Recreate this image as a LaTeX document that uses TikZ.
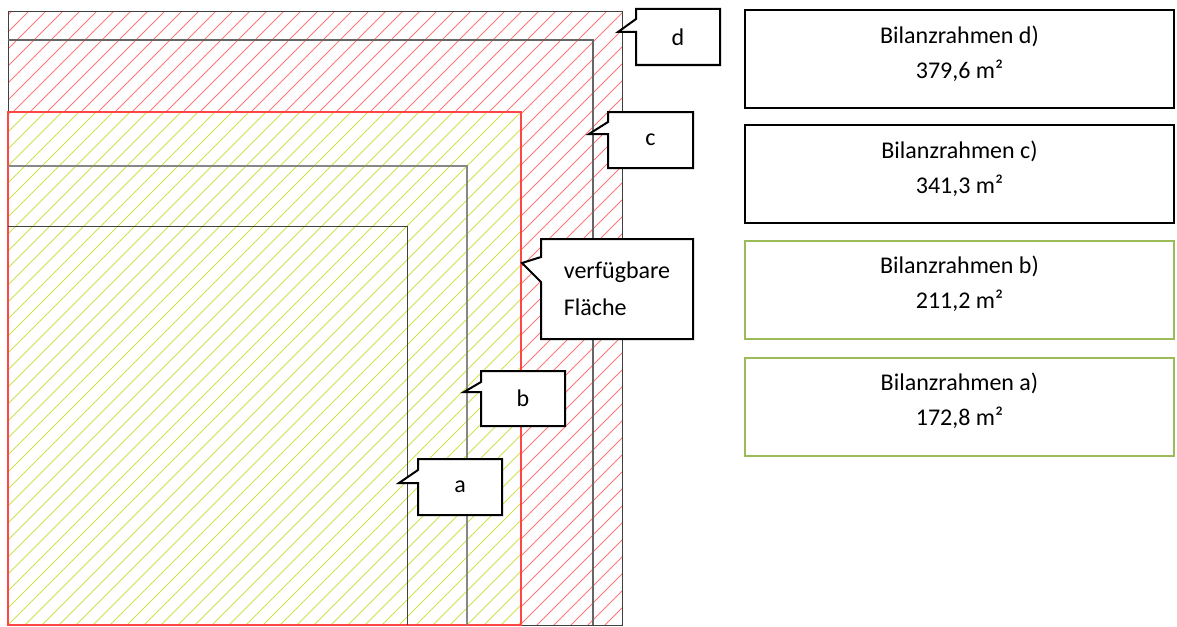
\documentclass[tikz,border=0pt]{standalone}
\usepackage{fontspec}
\setmainfont{Carlito}
\usetikzlibrary{positioning,calc}

\definecolor{hatchred}{RGB}{255,120,120}
\definecolor{hatchyellow}{RGB}{210,224,80}
\definecolor{areared}{RGB}{255,70,70}
\definecolor{boxgreen}{RGB}{155,187,89}
\definecolor{framegray}{RGB}{64,64,64}
\definecolor{midgray}{RGB}{135,135,135}

\pgfdeclarelayer{outline}
\pgfdeclarelayer{label}
\pgfsetlayers{main,outline,label}

\begin{document}
\begin{tikzpicture}[x=1pt,y=-1pt,
  callout/.style={inner sep=0pt,outer sep=0pt,font=\fontsize{24}{37}\selectfont},
  calloutline/.style={draw=black,line width=2pt,fill=white},
  infobox/.style={draw=black,line width=1.5pt,minimum width=429,minimum height=98},
  greenbox/.style={infobox,draw=boxgreen,line width=2pt},
  boxtext/.style={align=center,inner sep=0pt,font=\fontsize{24}{35}\selectfont}]
\useasboundingbox (0,0) rectangle (1177,626);

% hatched areas
\begin{scope}
\clip (8,12) -- (622,12) -- (622,625) -- (521,625) -- (521,112) -- (8,112) -- cycle;
\foreach \x in {-620,-603,...,640}
  \draw[hatchred,line width=0.8pt] (\x,626) -- ++(620,-620);
\end{scope}
\begin{scope}
\clip (8,112) rectangle (521,625);
\foreach \x in {-520,-503,...,540}
  \draw[hatchyellow,line width=0.8pt] (\x,626) -- ++(520,-520);
\end{scope}

% frames d, c, area, b, a
\draw[framegray,line width=1pt] (8,112) -- (8,12) -- (622,12) -- (622,625) -- (521,625);
\draw[framegray!80,line width=1.2pt] (8,40) -- (593,40) -- (593,625);
\draw[areared,line width=1.2pt] (8,112) rectangle (521,625);
\draw[midgray,line width=2pt] (8,166) -- (467,166) -- (467,625);
\draw[framegray,line width=1pt] (8,226) -- (407,226) -- (407,625);

\begin{pgfonlayer}{label}
\node[callout,minimum width=84,minimum height=56] at (678,37) (d) {d};
\node[callout,minimum width=85,minimum height=56] at (650.5,140) (c) {c};
\node[callout,minimum width=152,minimum height=100,align=left] at (617,289) (free) {verfügbare\\Fläche};
\node[callout,minimum width=84,minimum height=55] at (523,398.5) (b) {b};
\node[callout,minimum width=84,minimum height=56] at (460,487) (a) {a};
\end{pgfonlayer}
\coordinate (dtip) at (618,32);
\coordinate (ctip) at (589,134);
\coordinate (freetip) at (522,263);
\coordinate (btip) at (464,392);
\coordinate (atip) at (399,483);

\begin{pgfonlayer}{outline}
\draw[calloutline] (d.north west) -- (d.north east) -- (d.south east) -- (d.south west)
  -- (d.west |- dtip) -- (dtip) -- ($(d.north west)+(0,10)$) -- cycle;
\draw[calloutline] (c.north west) -- (c.north east) -- (c.south east) -- (c.south west)
  -- (c.west |- ctip) -- (ctip) -- ($(c.north west)+(0,10)$) -- cycle;
\draw[calloutline] (free.north west) -- (free.north east) -- (free.south east) -- (free.south west)
  -- ($(free.north west)+(0,43)$) -- (freetip) -- ($(free.north west)+(0,18)$) -- cycle;
\draw[calloutline] (b.north west) -- (b.north east) -- (b.south east) -- (b.south west)
  -- (b.west |- btip) -- (btip) -- ($(b.north west)+(0,11)$) -- cycle;
\draw[calloutline] (a.north west) -- (a.north east) -- (a.south east) -- (a.south west)
  -- (a.west |- atip) -- (atip) -- ($(a.north west)+(0,11)$) -- cycle;
\end{pgfonlayer}

% area boxes
\node[infobox] at (959.5,59) (boxd) {};
\node[infobox] at (959.5,174) (boxc) {};
\node[greenbox] at (959.5,290) (boxb) {};
\node[greenbox] at (959.5,406.5) (boxa) {};
\node[boxtext,below=16pt of boxd.north] (txtd) {Bilanzrahmen d)\\379,6 m²};
\node[boxtext,below=16pt of boxc.north] (txtc) {Bilanzrahmen c)\\341,3 m²};
\node[boxtext,below=16pt of boxb.north] (txtb) {Bilanzrahmen b)\\211,2 m²};
\node[boxtext,below=16pt of boxa.north] (txta) {Bilanzrahmen a)\\172,8 m²};
\end{tikzpicture}
\end{document}
